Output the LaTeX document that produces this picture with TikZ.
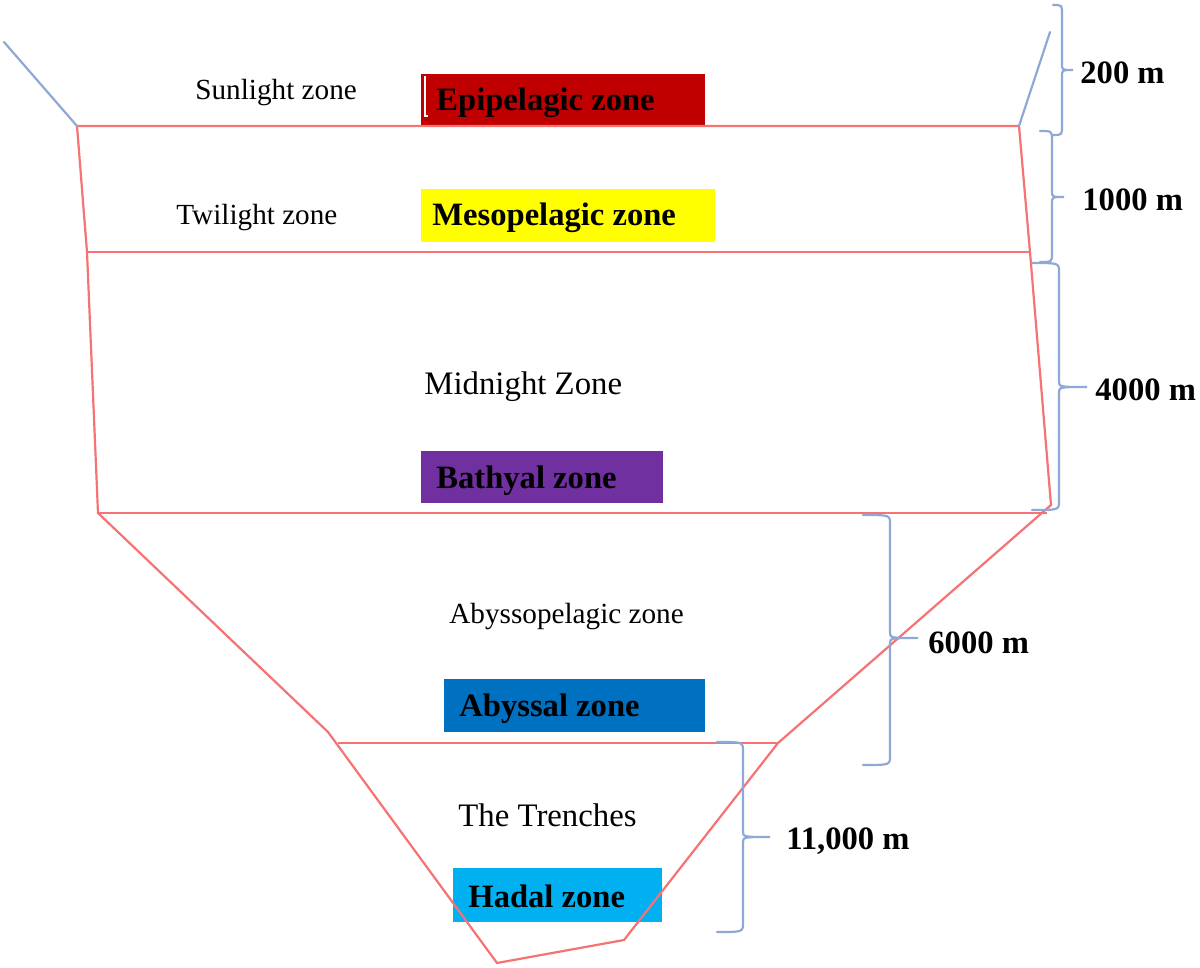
\documentclass[tikz,border=0pt]{standalone}
\usepackage{fontspec}
\setmainfont{Liberation Serif}
\definecolor{zred}{RGB}{245,115,115}
\definecolor{zblue}{RGB}{143,168,214}
\definecolor{epired}{RGB}{192,0,0}
\definecolor{mesoyel}{RGB}{255,255,0}
\definecolor{bathpur}{RGB}{112,48,160}
\definecolor{abyblue}{RGB}{0,112,192}
\definecolor{hadblue}{RGB}{0,176,240}
\newcommand\zbrace[6]{% xh xs xt yt ym yb
  \draw[blueline] (#1,#4) .. controls (#2,#4) .. (#2,#4+9) -- (#2,#5-6)
    .. controls (#2,#5) .. (#3,#5) .. controls (#2,#5) .. (#2,#5+6)
    -- (#2,#6-9) .. controls (#2,#6) .. (#1,#6);}
\begin{document}
\begin{tikzpicture}[x=0.5pt,y=-0.5pt,
  redline/.style={draw=zred,line width=1.1pt,line join=miter},
  blueline/.style={draw=zblue,line width=1.1pt,line cap=round},
  reg/.style={anchor=west,inner sep=0,font=\fontsize{14.6}{17}\selectfont},
  regl/.style={anchor=west,inner sep=0,font=\fontsize{16.4}{19}\selectfont},
  bld/.style={anchor=west,inner sep=0,font=\fontsize{16.3}{19}\selectfont\bfseries},
]
\useasboundingbox[fill=white] (0,0) rectangle (1200,968);
% coloured boxes
\fill[epired] (421,74) rectangle (705,126);
\draw[white,line width=0.6pt] (425,76) -- (425,116) -- (428,116);
\fill[mesoyel] (421,189) rectangle (715,242);
\fill[bathpur] (421,451) rectangle (663,503);
\fill[abyblue] (444,679) rectangle (705,732);
\fill[hadblue] (453,868) rectangle (662,922);
% outline
\draw[redline] (77,126) -- (1019,126) -- (1030,252) -- (1051,505) -- (778,743)
  -- (624,940) -- (497,963) -- (328,732) -- (98,513) -- (87,252) -- cycle;
\draw[redline] (87,252) -- (1030,252);
\draw[redline] (98,513) -- (1047,513);
\draw[redline] (338,743) -- (778,743);
% surface lines
\draw[blueline] (4,42) -- (77,126);
\draw[blueline] (1019,126) -- (1050,32);
% braces
\zbrace{1053}{1062}{1073}{5}{70}{135}
\zbrace{1040}{1052}{1064}{131}{197}{262}
\zbrace{1032}{1059}{1087}{263}{387}{510}
\zbrace{863}{890}{918}{515}{638}{765}
\zbrace{717}{743}{770}{742}{837}{932}
% labels
\node[reg] (sun) at (195,93) {Sunlight zone};
\node[reg] (twi) at (176,218) {Twilight zone};
\node[regl] (mid) at (424,387) {Midnight Zone};
\node[reg] (aby) at (449,617) {Abyssopelagic zone};
\node[regl] (tre) at (458,815) {The Trenches};
\node[bld] (epi) at (436,103) {Epipelagic zone};
\node[bld] (meso) at (432,218) {Mesopelagic zone};
\node[bld] (bath) at (436,481) {Bathyal zone};
\node[bld] (abyz) at (459,709) {Abyssal zone};
\node[bld] (had) at (468,896) {Hadal zone};
\node[bld] (d200) at (1080,73) {200 m};
\node[bld] (d1000) at (1082,200) {1000 m};
\node[bld] (d4000) at (1095,390) {4000 m};
\node[bld] (d6000) at (928,643) {6000 m};
\node[bld] (d11000) at (786,841) {11,000 m};
\end{tikzpicture}
\end{document}
